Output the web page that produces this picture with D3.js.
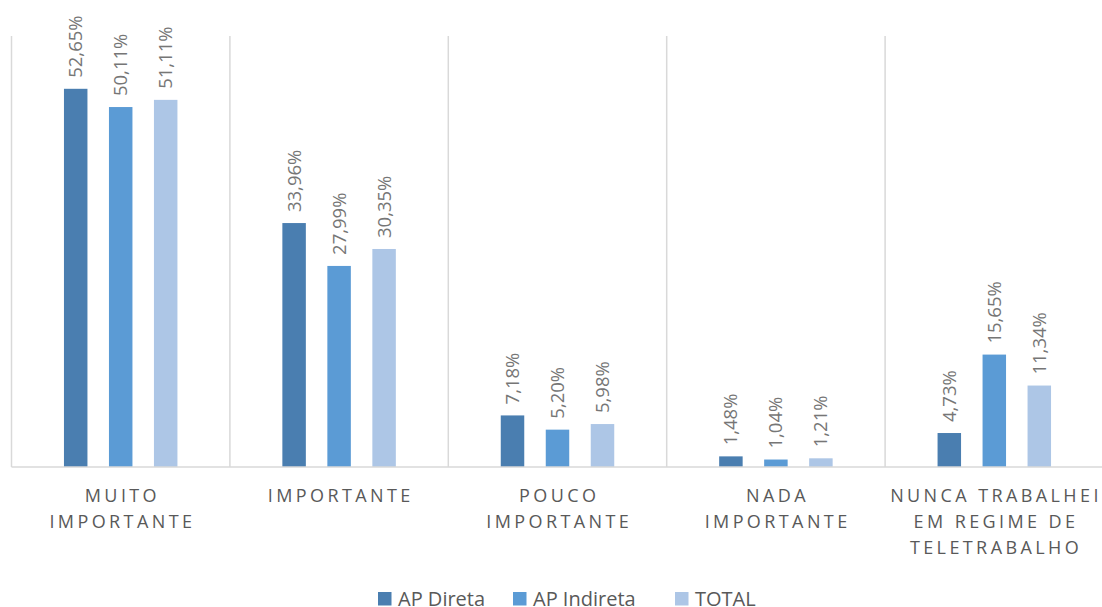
<!DOCTYPE html>
<html>
<head>
<meta charset="utf-8">
<script src="https://cdn.jsdelivr.net/npm/d3@7"></script>
<style>
  html, body { margin: 0; padding: 0; background: #fff; }
  svg { display: block; }
</style>
</head>
<body>
<svg id="chart" width="1102" height="607"></svg>
<script>
const categories = ["MUITO IMPORTANTE", "IMPORTANTE", "POUCO IMPORTANTE", "NADA IMPORTANTE", "NUNCA TRABALHEI EM REGIME DE TELETRABALHO"];
const categoryLines = [["MUITO", "IMPORTANTE"], ["IMPORTANTE"], ["POUCO", "IMPORTANTE"], ["NADA", "IMPORTANTE"], ["NUNCA TRABALHEI", "EM REGIME DE", "TELETRABALHO"]];
const seriesNames = ["AP Direta", "AP Indireta", "TOTAL"];
const apDireta = [52.65, 33.96, 7.18, 1.48, 4.73];
const apIndireta = [50.11, 27.99, 5.20, 1.04, 15.65];
const total = [51.11, 30.35, 5.98, 1.21, 11.34];
const colors = ["#4a7eb0", "#5b9bd5", "#adc6e6"];

const seriesValues = [apDireta, apIndireta, total];
const svg = d3.select("#chart");
const font = "'Open Sans', 'Noto Sans', sans-serif";

const x = d3.scaleBand().domain(categories).range([11.5, 1103.5]).paddingInner(0).paddingOuter(0);
const xs = d3.scaleBand().domain(seriesNames).range([0, x.bandwidth()]).paddingInner(0.478).paddingOuter(1.166);
const y = d3.scaleLinear().domain([0, 60]).range([467, 36]);

// vertical gridlines at category boundaries
const bounds = categories.map(c => x(c)).concat([x(categories[categories.length - 1]) + x.bandwidth()]);
svg.append("g").selectAll("line").data(bounds).join("line")
  .attr("x1", d => d).attr("x2", d => d)
  .attr("y1", y(60)).attr("y2", y(0))
  .attr("stroke", "#d9d9d9").attr("stroke-width", 1.5);

// bars
const data = [];
categories.forEach((c, i) => seriesNames.forEach((s, j) => data.push({c, s, j, v: seriesValues[j][i]})));

svg.append("g").selectAll("rect").data(data).join("rect")
  .attr("x", d => x(d.c) + xs(d.s))
  .attr("width", xs.bandwidth())
  .attr("y", d => y(d.v))
  .attr("height", d => y(0) - y(d.v))
  .attr("fill", d => colors[d.j]);

// baseline
svg.append("line")
  .attr("x1", x.range()[0]).attr("x2", x.range()[1])
  .attr("y1", y(0)).attr("y2", y(0))
  .attr("stroke", "#d9d9d9").attr("stroke-width", 1.5);

// value labels
svg.append("g").selectAll("text").data(data).join("text")
  .attr("transform", d => `translate(${x(d.c) + xs(d.s) + xs.bandwidth() / 2},${y(d.v) - 11}) rotate(-90)`)
  .attr("dy", "0.35em")
  .attr("text-anchor", "start")
  .attr("font-family", font)
  .attr("font-size", "18.5px")
  .attr("fill", "#767676")
  .text(d => d.v.toFixed(2).replace(".", ",") + "%");

// category labels
const cl = svg.append("g").selectAll("text").data(categories).join("text")
  .attr("text-anchor", "middle")
  .attr("font-family", font)
  .attr("font-size", "18px")
  .attr("letter-spacing", "3.4px")
  .attr("fill", "#595959");
cl.each(function(d, i) {
  const t = d3.select(this);
  categoryLines[i].forEach((line, k) => {
    t.append("tspan")
      .attr("x", x(d) + x.bandwidth() / 2 + 1.7)
      .attr("y", 502 + k * 26)
      .text(line);
  });
});

// legend
const legendX = [378, 513, 675];
const lg = svg.append("g").selectAll("g").data(seriesNames).join("g")
  .attr("transform", (d, i) => `translate(${legendX[i]},592)`);
lg.append("rect").attr("width", 13.5).attr("height", 13.5).attr("fill", (d, i) => colors[i]);
lg.append("text")
  .attr("x", 20).attr("y", 6.75).attr("dy", "0.35em")
  .attr("font-family", font).attr("font-size", "20px").attr("fill", "#595959")
  .text(d => d);
</script>
</body>
</html>
